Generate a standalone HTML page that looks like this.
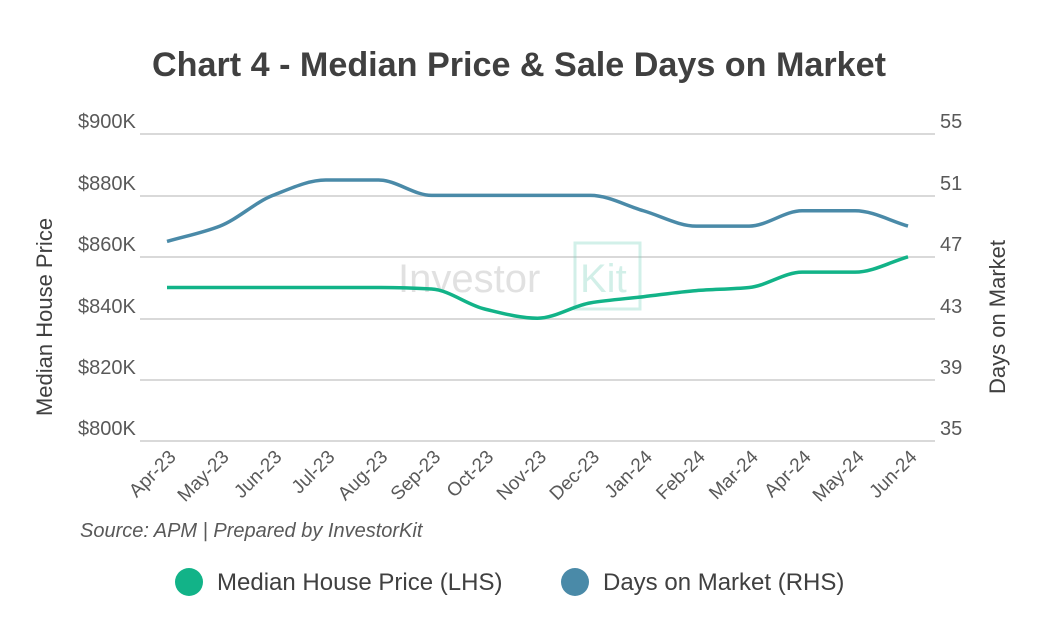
<!DOCTYPE html>
<html><head><meta charset="utf-8"><style>
body{margin:0;background:#fff;}
svg{display:block;font-family:"Liberation Sans",sans-serif;}
</style></head><body>
<svg id="s" width="1040" height="640" viewBox="0 0 1040 640">
<rect width="1040" height="640" fill="#fff"/>
<text x="519" y="76" text-anchor="middle" font-size="34" font-weight="bold" fill="#404040" textLength="734" lengthAdjust="spacingAndGlyphs">Chart 4 - Median Price &amp; Sale Days on Market</text>
<g stroke="#d9d9d9" stroke-width="2">
<line x1="140" x2="935" y1="134" y2="134"/><line x1="140" x2="935" y1="196" y2="196"/>
<line x1="140" x2="935" y1="257" y2="257"/><line x1="140" x2="935" y1="319" y2="319"/>
<line x1="140" x2="935" y1="380" y2="380"/><line x1="140" x2="935" y1="441" y2="441"/>
</g>
<g font-size="20" fill="#595959">
<text x="78" y="128">$900K</text><text x="78" y="190">$880K</text><text x="78" y="251">$860K</text>
<text x="78" y="313">$840K</text><text x="78" y="374">$820K</text><text x="78" y="435">$800K</text>
<text x="940" y="128">55</text><text x="940" y="190">51</text><text x="940" y="251">47</text>
<text x="940" y="313">43</text><text x="940" y="374">39</text><text x="940" y="435">35</text>
</g>
<text transform="translate(52,317) rotate(-90)" text-anchor="middle" font-size="22" fill="#404040">Median House Price</text>
<text transform="translate(1005,317) rotate(-90)" text-anchor="middle" font-size="22" fill="#404040">Days on Market</text>
<g opacity="0.35">
<text x="398" y="292" font-size="40" fill="#aaa">Investor</text>
<text x="580" y="292" font-size="40" fill="#7fd3c0">Kit</text>
<rect x="575" y="243" width="65" height="66" fill="none" stroke="#7fd3c0" stroke-width="3"/>
</g>
<g id="xl" font-size="19" fill="#595959"></g>
<text x="80" y="537" font-size="20" font-style="italic" fill="#595959">Source: APM | Prepared by InvestorKit</text>
<circle cx="189" cy="582" r="14" fill="#12b388"/>
<text x="217" y="590" font-size="24" fill="#404040">Median House Price (LHS)</text>
<circle cx="575" cy="582" r="14" fill="#4a8aa8"/>
<text x="603" y="590" font-size="24" fill="#404040">Days on Market (RHS)</text>
<path id="g" fill="none" stroke="#12b388" stroke-width="3.5"/>
<path id="b" fill="none" stroke="#4a8aa8" stroke-width="3.5"/>
</svg>
<script>
var labs=["Apr-23","May-23","Jun-23","Jul-23","Aug-23","Sep-23","Oct-23","Nov-23","Dec-23","Jan-24","Feb-24","Mar-24","Apr-24","May-24","Jun-24"];
var x0=167,dx=(908-167)/14,ns="http://www.w3.org/2000/svg";
var xl=document.getElementById("xl");
labs.forEach(function(l,i){var t=document.createElementNS(ns,"text");var x=x0+i*dx+10,y=458;
t.setAttribute("transform","translate("+x+","+y+") rotate(-45)");t.setAttribute("text-anchor","end");t.textContent=l;xl.appendChild(t);});
function py(v){return 134+(900-v)*307/100;}
function dy(v){return 134+(55-v)*307/20;}
var G=[850,850,850,850,850,849.5,843,840,845,847,849,850,855,855,860].map(py);
var B=[48,49,51,52,52,51,51,51,51,50,49,49,50,50,49].map(dy);
function mono(ys){var n=ys.length,xs=ys.map(function(_,i){return x0+i*dx}),d=[],m=[];
for(var i=0;i<n-1;i++)d.push((ys[i+1]-ys[i])/dx);
m[0]=d[0];m[n-1]=d[n-2];
for(i=1;i<n-1;i++){m[i]=(d[i-1]*d[i]<=0)?0:2/(1/d[i-1]+1/d[i]);}
var p="M"+xs[0]+","+ys[0];
for(i=0;i<n-1;i++){var h=dx/3;p+=" C"+(xs[i]+h)+","+(ys[i]+m[i]*h)+" "+(xs[i+1]-h)+","+(ys[i+1]-m[i+1]*h)+" "+xs[i+1]+","+ys[i+1];}
return p;}
document.getElementById("g").setAttribute("d",mono(G));
document.getElementById("b").setAttribute("d",mono(B));
</script>
</body></html>
